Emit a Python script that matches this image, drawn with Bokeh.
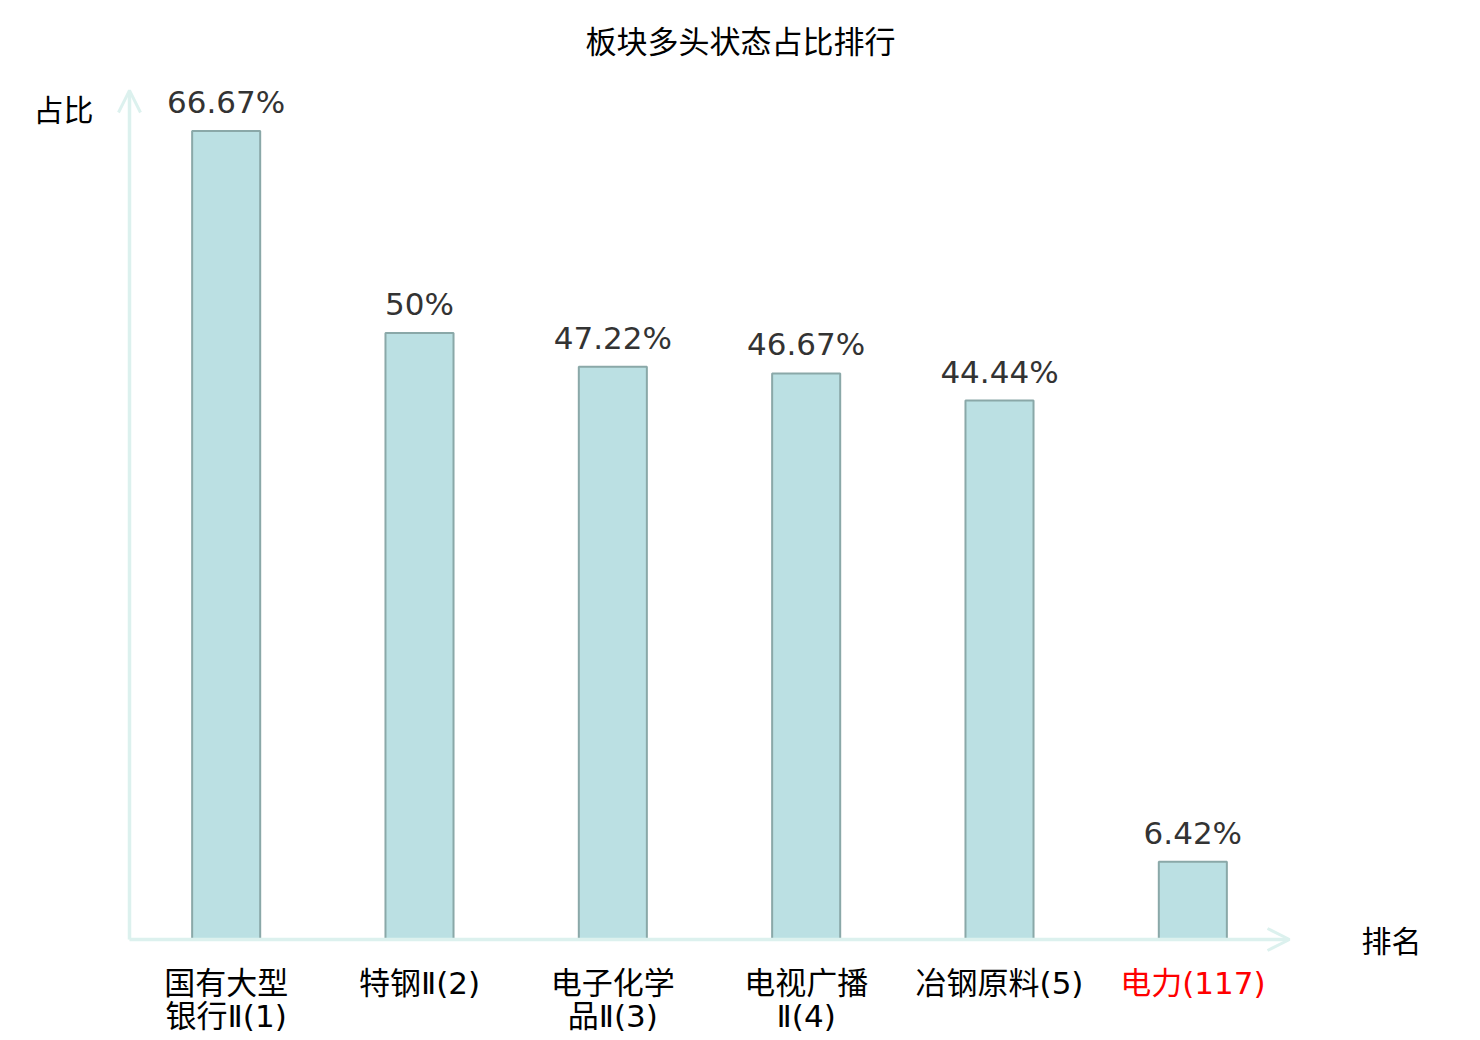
import numpy as np
from bokeh.plotting import figure
from bokeh.models import ColumnDataSource, LabelSet, Label, Arrow, OpenHead, Range1d
from bokeh.core.properties import value
from bokeh.embed import file_html
from bokeh.resources import INLINE

categories = ["国有大型\n银行Ⅱ(1)", "特钢Ⅱ(2)", "电子化学\n品Ⅱ(3)", "电视广播\nⅡ(4)", "冶钢原料(5)", "电力(117)"]
values = [66.67, 50, 47.22, 46.67, 44.44, 6.42]
value_labels = ["66.67%", "50%", "47.22%", "46.67%", "44.44%", "6.42%"]
label_colors = ["#000000", "#000000", "#000000", "#000000", "#000000", "#ff0000"]

NUM_FONT = "DejaVu Sans, Noto Sans CJK SC, sans-serif"
CAT_FONT = "DejaVu Sans, Noto Sans CJK SC, sans-serif"
CJK_FONT = "Noto Sans CJK SC, sans-serif"
AXIS_COLOR = "#dcf1ee"

W, H = 1480, 1040
n = len(categories)
xs = np.arange(n) + 0.5
ymax = 70

# layout: data area placement in pixels (frame covers the whole canvas)
left_px, right_px, top_px, zero_px = 129, 1289, 90, 939
xscale = (right_px - left_px) / n
yscale = (zero_px - top_px) / ymax
x_range = Range1d(-left_px / xscale, (W - left_px) / xscale)
y_range = Range1d(-(H - zero_px) / yscale, zero_px / yscale)

line1 = [c.split("\n")[0] for c in categories]
line2 = [c.split("\n")[1] if "\n" in c else "" for c in categories]

src = ColumnDataSource(dict(x=xs, top=values, vlab=value_labels, l1=line1, l2=line2,
                            col=label_colors, zero=[0] * n))

p = figure(width=W, height=H, output_backend="svg", toolbar_location=None,
           x_range=x_range, y_range=y_range,
           min_border=0, min_border_left=0, min_border_right=0, min_border_top=0, min_border_bottom=0)
p.xaxis.visible = False
p.yaxis.visible = False
p.xgrid.visible = False
p.ygrid.visible = False
p.outline_line_color = None
p.background_fill_color = "white"
p.border_fill_color = "white"

p.vbar(x="x", top="top", width=0.352, bottom=0, source=src,
       fill_color="#bbe0e3", line_color="#8aa8a8", line_width=2)

# axes with arrows
p.add_layout(Arrow(end=OpenHead(size=22, line_color=AXIS_COLOR, line_width=3),
                   x_start=0, y_start=0, x_end=n, y_end=0,
                   line_color=AXIS_COLOR, line_width=3.5))
p.add_layout(Arrow(end=OpenHead(size=22, line_color=AXIS_COLOR, line_width=3),
                   x_start=0, y_start=0, x_end=0, y_end=ymax,
                   line_color=AXIS_COLOR, line_width=3.5))

p.add_layout(LabelSet(x="x", y="top", text="vlab", source=src, y_offset=11,
                      text_align="center", text_baseline="bottom",
                      text_font=value(NUM_FONT), text_font_size="31px", text_color="#333333"))

p.add_layout(LabelSet(x="x", y="zero", text="l1", source=src, y_offset=-43,
                      text_align="center", text_baseline="middle",
                      text_font=value(CAT_FONT), text_font_size="31px", text_color="col"))
p.add_layout(LabelSet(x="x", y="zero", text="l2", source=src, y_offset=-76,
                      text_align="center", text_baseline="middle",
                      text_font=value(CAT_FONT), text_font_size="31px", text_color="col"))

p.add_layout(Label(x=(W / 2 - left_px) / xscale, y=ymax, y_offset=51, text="板块多头状态占比排行",
                   text_align="center", text_baseline="middle",
                   text_font=CJK_FONT, text_font_size="31px", text_color="#000000"))
p.add_layout(Label(x=0, y=ymax, x_offset=-66, y_offset=-17, text="占比",
                   text_align="center", text_baseline="middle",
                   text_font=CJK_FONT, text_font_size="30px", text_color="#000000"))
p.add_layout(Label(x=n, y=0, x_offset=102, y_offset=1, text="排名",
                   text_align="center", text_baseline="middle",
                   text_font=CJK_FONT, text_font_size="30px", text_color="#000000"))

open("out.html", "w").write(file_html(p, INLINE))
